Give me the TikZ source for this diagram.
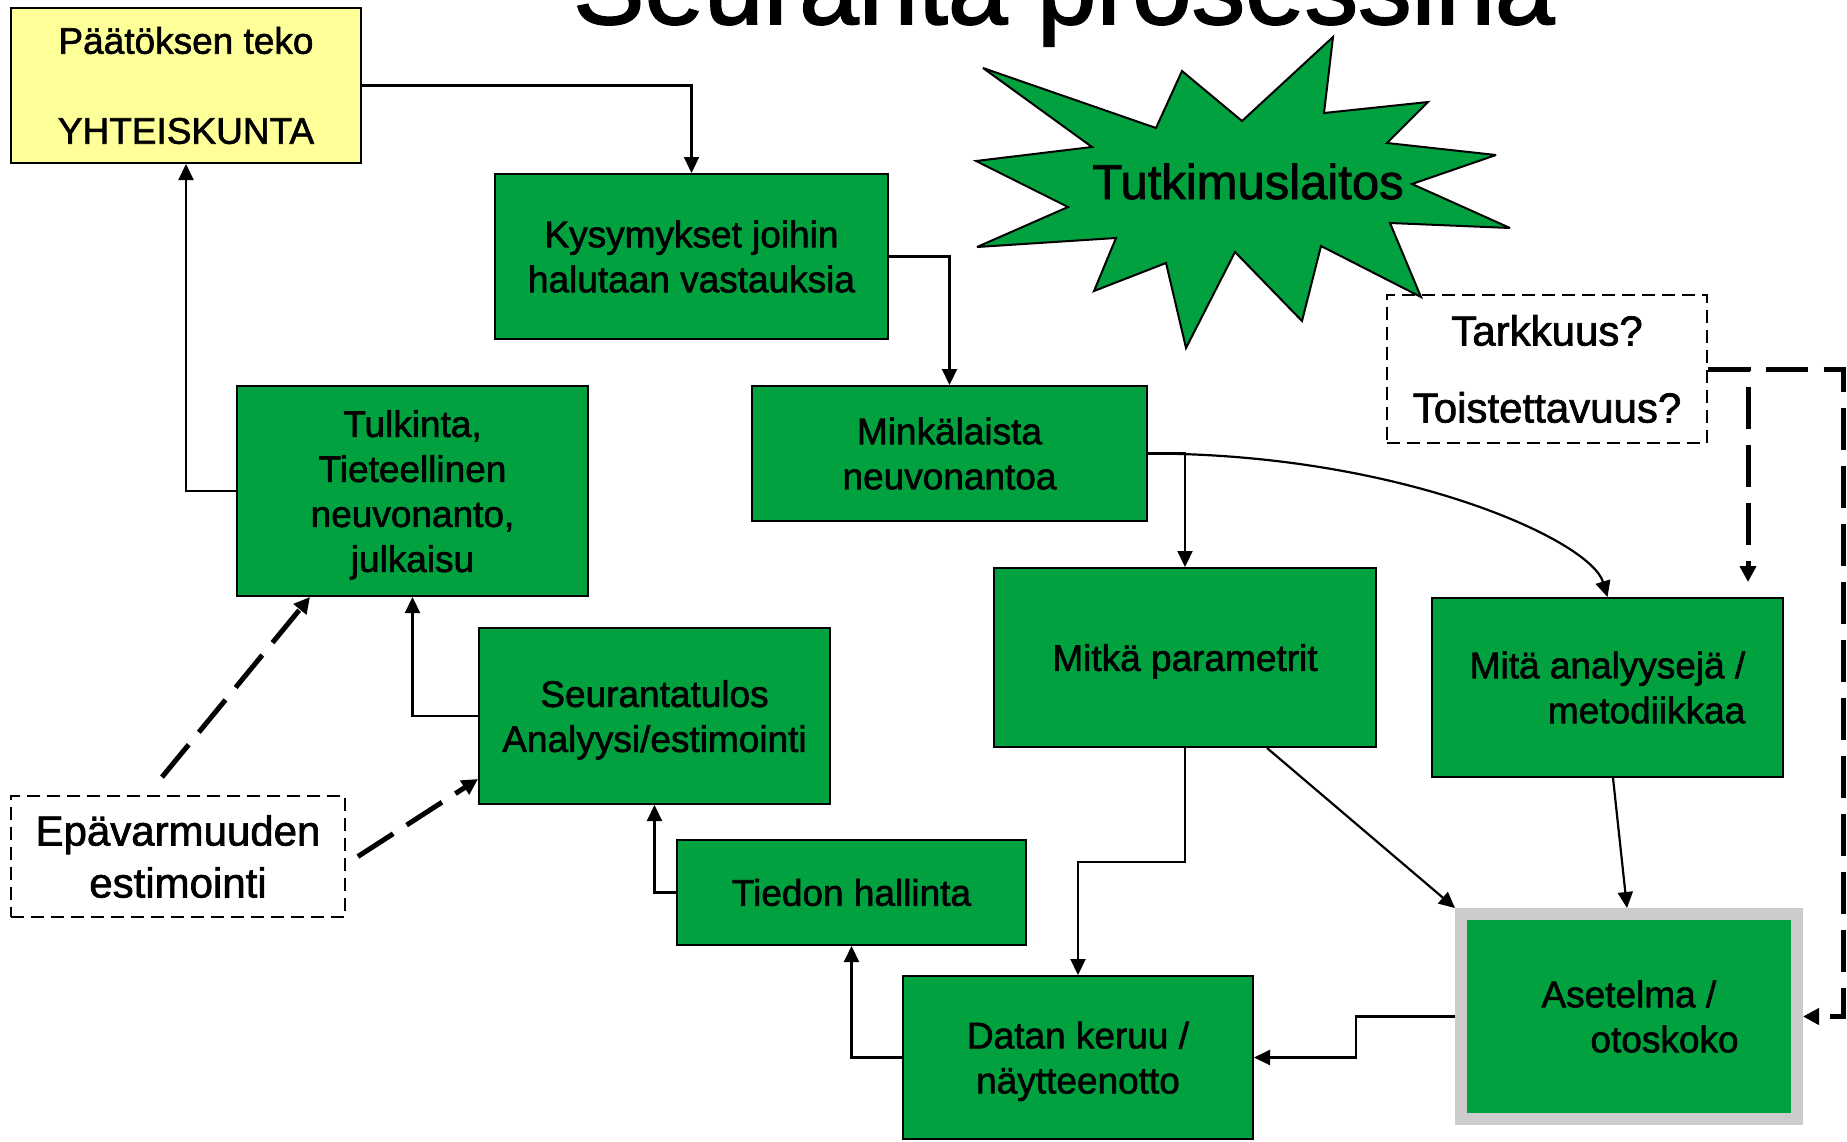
\documentclass[tikz,border=0pt]{standalone}
\usepackage{fontspec}
\setmainfont{Liberation Sans}[FakeBold=1.6]
\usetikzlibrary{arrows.meta}
\definecolor{boxgreen}{RGB}{0,161,62}
\definecolor{paleyellow}{RGB}{255,255,153}
\definecolor{framegray}{RGB}{204,204,204}
\newcommand\nodepth[1]{\raisebox{0pt}[\height][0pt]{#1}}
\begin{document}
\begin{tikzpicture}[x=1pt,y=-1pt,
  gbox/.style={draw=black, line width=2pt, fill=boxgreen, inner sep=0pt, align=center, font=\fontsize{37}{45}\selectfont},
  conn/.style={line width=2.2pt, -{Triangle[length=16pt,width=15pt]}},
  dconn/.style={line width=5pt, dash pattern=on 42pt off 16pt, -{Triangle[length=16pt,width=16pt]}},
  qbox/.style={draw=black, line width=1.8pt, dash pattern=on 13pt off 7pt, inner sep=0pt, align=center},
]
\useasboundingbox (0,0) rectangle (1847,1141);

\node[anchor=base west, inner sep=0pt, font=\fontsize{107}{120}\selectfont] (title) at (573,24) {Seuranta prosessina};

% starburst
\draw[fill=boxgreen, line width=2pt, line join=miter, miter limit=4] (983,68) -- (1156,128) -- (1182,71) -- (1242,121) -- (1333,37) -- (1324,113) -- (1428,102) -- (1387,143) -- (1496,155) -- (1412,184) -- (1510,228) -- (1390,223) -- (1421,297) -- (1321,246) -- (1302,321) -- (1235,252) -- (1186,348) -- (1166,263) -- (1094,291) -- (1116,238) -- (977,247) -- (1068,207) -- (976,161) -- (1092,147) -- cycle;
\node[font=\fontsize{49}{55}\selectfont, anchor=base, inner sep=0pt] (tutk) at (1248,199) {Tutkimuslaitos};

\node[gbox, fill=paleyellow, minimum width=350, minimum height=155] (paatos) at (186,85.5) {Päätöksen teko\\[45pt]YHTEISKUNTA};
\node[gbox, minimum width=393, minimum height=165] (kysy) at (691.5,256.5) {Kysymykset joihin\\halutaan vastauksia};
\node[gbox, minimum width=351, minimum height=210] (tulk) at (412.5,491) {Tulkinta,\\Tieteellinen\\neuvonanto,\\\nodepth{julkaisu}};
\node[gbox, minimum width=395, minimum height=135] (mink) at (949.5,453.5) {Minkälaista\\neuvonantoa};
\node[gbox, minimum width=351, minimum height=176] (seur) at (654.5,716) {Seurantatulos\\\nodepth{Analyysi/estimointi}};
\node[gbox, minimum width=349, minimum height=105] (tied) at (851.5,892.5) {Tiedon hallinta};
\node[gbox, minimum width=382, minimum height=179] (mitka) at (1185,657.5) {\nodepth{Mitkä parametrit}};
\node[gbox, align=right, minimum width=351, minimum height=179] (mita) at (1607.5,687.5) {Mitä analyysejä /\\metodiikkaa};
\node[gbox, minimum width=350, minimum height=163] (datan) at (1078,1057.5) {Datan keruu /\\\nodepth{näytteenotto}};
\node[gbox, draw=framegray, line width=12pt, align=left, minimum width=336, minimum height=205] (aset) at (1629,1016.5) {\hspace*{22pt}Asetelma /\\\hspace*{71pt}otoskoko};

\node[qbox, font=\fontsize{42}{48}\selectfont, minimum width=320, minimum height=148] (tark) at (1547,369) {Tarkkuus?\\[29pt]Toistettavuus?};
\node[qbox, font=\fontsize{42}{52}\selectfont, minimum width=334, minimum height=121] (epav) at (178,856.5) {Epävarmuuden\\estimointi};

% connectors
\draw[conn] (paatos.east) -| (kysy.north);
\draw[conn] (kysy.east) -| (mink.north);
\draw[conn] (tulk.west) -| (paatos.south);
\draw[conn] (seur.west) -| (tulk.south);
\draw[conn] (tied.west) -| (seur.south);
\draw[conn] (datan.west) -| (tied.south);
\draw[conn] (mink.east) -| (mitka.north);
\draw[conn] (mink.east) .. controls +(252,0) and +(-17,-57) .. (mita.north);
\coordinate (mitkabend) at (1185,862);
\draw[conn] (mitka.south) -- (mitkabend) -| (datan.north);
\draw[conn] ([xshift=82pt]mitka.south) -- (aset.north west);
\draw[conn] ([xshift=5.5pt]mita.south) -- ([xshift=-2pt]aset.north);
\coordinate (asetbend) at (1356,1016.5);
\draw[conn] (aset.west) -- (asetbend) |- (datan.east);

% dashed connectors
\coordinate (tarkend) at (1748,582);
\draw[dconn] (tark.east) -| (tarkend);
\coordinate (rightcorner) at (1843,369);
\draw[dconn] (tark.east) -- (rightcorner) |- (aset.east);
\draw[dconn] ([xshift=-16pt,yshift=18pt]epav.north) -- ([xshift=74pt]tulk.south west);
\draw[dconn] ([xshift=12pt]epav.east) -- ([yshift=-63pt]seur.west);
\end{tikzpicture}
\end{document}
